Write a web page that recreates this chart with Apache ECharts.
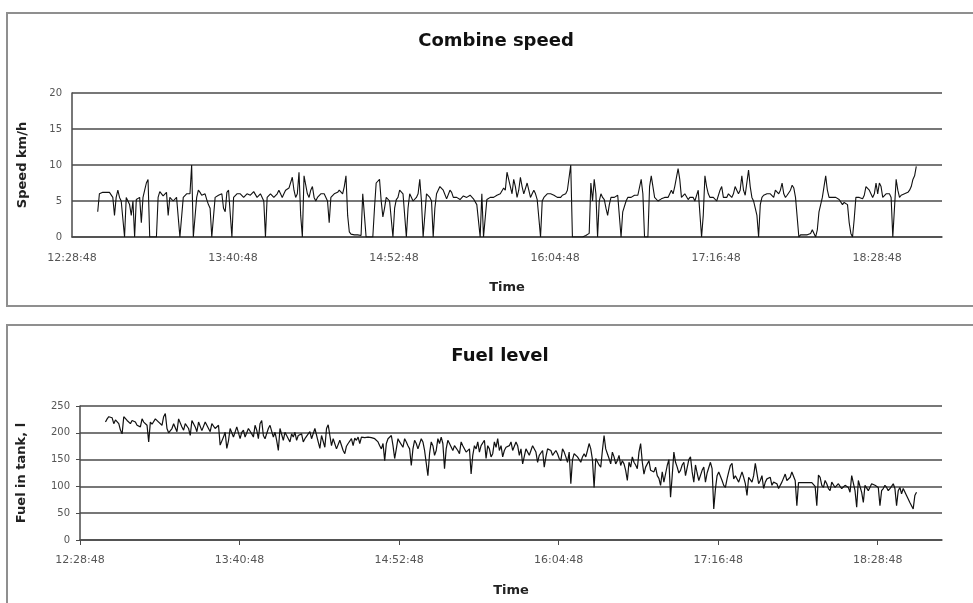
<!DOCTYPE html>
<html>
<head>
<meta charset="utf-8">
<script src="https://cdn.jsdelivr.net/npm/echarts@6/dist/echarts.min.js"></script>
<style>
  html, body { margin: 0; padding: 0; background: #fff; }
  #chart { width: 973px; height: 603px; }
</style>
</head>
<body>
<div id="chart"></div>
<script>
(function() {
  // time axis in minutes after 12:28:48
  var timeLabels = ['12:28:48', '13:40:48', '14:52:48', '16:04:48', '17:16:48', '18:28:48'];
  var labelStepMin = 72;
  var axisMaxMin = 389;
  var sampleStartMin = 11.5;
  var sampleStepMin = 1.5;

  var speedTicks = [0, 5, 10, 15, 20];
  var fuelTicks = [0, 50, 100, 150, 200, 250];

  // combine speed, km/h (one reading every 1.5 min)
  var speedValues = [
    3.5, 6, 6.2, 6, 6.3, 3, 6.5, 5, 0, 5.5,
    3, 0, 5.2, 2, 6.5, 8, 0, 0, 5.5, 6.3,
    5.8, 3, 5.5, 5, 5.5, 0, 5.5, 6, 10, 0,
    6.5, 5.8, 6, 4.5, 0, 5.5, 5.8, 6, 3.5, 6.5,
    0, 5.5, 6, 6, 5.5, 6, 5.8, 6.3, 5.5, 6,
    0, 5.5, 6, 5.5, 6.5, 5.5, 6.5, 6.8, 8.3, 5.5,
    9, 0, 8.5, 5.5, 7, 5, 5.5, 6, 6, 2,
    5.5, 6, 6.5, 6, 8.5, 0.7, 0.4, 0.3, 0.3, 6,
    0, 0, 0, 7.5, 8, 2.8, 5.5, 5, 0, 5.2,
    6.5, 6, 0, 6, 5, 5.5, 8, 0, 6, 5.5,
    0, 6, 7, 6.5, 5.3, 6.5, 5.5, 5.5, 5.2, 5.7,
    5.5, 5.8, 5.3, 4.5, 0, 0, 5.2, 5.5, 5.5, 5.8,
    6, 6.8, 9, 7, 8, 5.5, 8.3, 6, 7.5, 5.5,
    6.5, 5.2, 0, 5.5, 6, 6, 5.8, 5.5, 5.5, 6,
    6.5, 10, 0, 0, 0, 0, 0.3, 7.5, 8, 0,
    6, 5.2, 3, 5.5, 5.5, 5.8, 0, 3.5, 5.5, 5.5,
    5.8, 5.8, 8, 0, 0, 8.5, 5.5, 5, 5.3, 5.5,
    5.5, 6.5, 7, 9.5, 5.5, 6, 5.2, 5.5, 5, 6.5,
    0, 8.5, 6, 5.5, 5.5, 5, 7, 5.3, 6, 5.5,
    7, 6, 8.5, 5.8, 9.3, 5.5, 4, 0, 5.5, 5.8,
    6, 6, 6.5, 6, 7.5, 5.5, 6, 7.2, 5.5, 0,
    0.3, 0.3, 0.2, 1, 0, 3.5, 5.5, 8.5, 5.5, 5.5,
    5.5, 5.2, 4.5, 5, 2, 0, 5.5, 5.5, 5.3, 7,
    6.5, 5.5, 7.5, 7.5, 5.5, 6, 6, 0, 8, 5.5,
    6, 6, 6.5, 8, 9.8
  ];

  // speed readings taken halfway between the ones above
  var speedMidValues = [
    6, 6.2, 6.2, 6.2, 5.5, 5.5, 5.5, 5, 5.5, 4.5,
    5, 5.2, 5.5, 5.5, 7.5, 0, 0, 0, 6.3, 5.7,
    6.2, 5.5, 5, 5.5, 0, 5.5, 6, 6, 0, 5.5,
    6.2, 6, 5.2, 4, 0, 5.5, 6, 4, 6.2, 6.3,
    5.5, 6, 6, 5.5, 6, 5.8, 6.3, 5.5, 6, 5,
    5.5, 6, 5.5, 6, 6, 6, 6.5, 7, 6.5, 6,
    3, 8.5, 6, 6.5, 5.5, 5.5, 6, 6, 5, 5.5,
    6, 6.2, 6.5, 7, 3, 0.4, 0.3, 0.3, 0.2, 3,
    0, 0, 4, 7.5, 5, 4, 5.5, 5, 4, 5.5,
    6.5, 5.8, 4, 6, 5, 6, 5, 0, 6, 5,
    4, 6, 7, 6.5, 5.5, 6.2, 5.5, 5.5, 5.3, 5.7,
    5.5, 5.8, 5.3, 4.5, 6, 0, 5.2, 5.5, 5.5, 5.8,
    6, 6.5, 8, 6, 7, 6.5, 7, 6, 6.5, 6,
    6, 5.2, 5, 5.5, 6, 6, 5.8, 5.5, 5.8, 6,
    6.5, 0, 0, 0, 0, 0.2, 0.5, 5, 6, 5,
    5.5, 4, 4.5, 5.5, 5.5, 5.8, 3.5, 5, 5.5, 5.5,
    5.8, 5.8, 6, 0, 7, 7, 5.5, 5, 5.3, 5.5,
    5.5, 6, 7, 8, 5.5, 5.8, 5.5, 5.5, 5.2, 6.5,
    3, 7, 5.5, 5.5, 5, 6.5, 5.5, 5.5, 6, 6,
    6.5, 6.5, 6.5, 6, 7, 5, 3, 4.5, 5.8, 6,
    6, 5.5, 6.3, 6.5, 6, 5.8, 6.5, 6.8, 5.5, 0.3,
    0.3, 0.3, 0.5, 0.8, 1, 4.5, 7, 6.5, 5.5, 5.5,
    5.3, 5, 4.8, 4.5, 0.5, 2.5, 5.5, 5.5, 5.8, 7,
    6.5, 6, 6, 7, 5.5, 6, 5.5, 0, 6.5, 5.8,
    6, 6.2, 7, 8.5
  ];

  // fuel in tank, l (one reading every 1.5 min)
  var fuelValues = [
    220, 230, 228, 224, 217, 198, 232, 226, 223, 220,
    214, 226, 218, 183, 216, 226, 220, 214, 236, 200,
    208, 214, 226, 211, 217, 208, 223, 211, 220, 204,
    220, 208, 217, 208, 214, 180, 201, 185, 208, 189,
    211, 201, 192, 208, 198, 214, 189, 223, 189, 208,
    214, 201, 167, 211, 201, 189, 198, 201, 195, 198,
    189, 198, 189, 208, 183, 195, 173, 215, 176, 189,
    173, 183, 161, 180, 189, 190, 192, 192, 191, 192,
    191, 189, 183, 170, 148, 189, 195, 152, 189, 186,
    189, 176, 139, 186, 170, 189, 167, 120, 183, 158,
    189, 192, 133, 186, 183, 176, 167, 183, 176, 164,
    123, 176, 183, 176, 186, 176, 155, 183, 189, 176,
    167, 176, 183, 164, 176, 170, 145, 173, 167, 176,
    145, 155, 136, 170, 167, 158, 161, 148, 164, 145,
    105, 161, 155, 145, 161, 167, 170, 98, 151, 136,
    195, 161, 142, 155, 148, 139, 142, 111, 136, 145,
    133, 180, 123, 136, 130, 127, 120, 102, 108, 139,
    80, 164, 136, 130, 145, 120, 155, 108, 125, 114,
    136, 125, 145, 58, 120, 125, 102, 114, 139, 114,
    123, 111, 117, 83, 117, 120, 142, 111, 96, 114,
    117, 108, 105, 96, 105, 111, 117, 130, 64, 107,
    107, 107, 107, 107, 64, 117, 98, 105, 92, 105,
    98, 100, 96, 105, 89, 123, 61, 114, 70, 100,
    89, 105, 100, 64, 96, 98, 96, 105, 64, 98,
    96, 83, 70, 58, 89
  ];

  // fuel readings taken halfway between the ones above
  var fuelMidValues = [
    226, 230, 217, 226, 205, 230, 223, 217, 226, 214,
    211, 220, 214, 220, 214, 223, 217, 230, 208, 202,
    217, 202, 223, 205, 217, 195, 220, 202, 220, 205,
    223, 202, 214, 205, 177, 192, 171, 208, 192, 211,
    189, 205, 195, 208, 192, 205, 217, 195, 189, 214,
    192, 186, 208, 186, 195, 183, 192, 186, 192, 183,
    192, 202, 186, 205, 171, 195, 208, 195, 189, 170,
    186, 167, 175, 183, 176, 186, 180, 189, 189, 190,
    189, 186, 176, 180, 180, 186, 176, 170, 183, 173,
    183, 170, 170, 180, 173, 183, 170, 161, 176, 167,
    180, 180, 170, 180, 167, 176, 161, 176, 164, 170,
    158, 170, 164, 176, 152, 170, 161, 173, 167, 155,
    173, 176, 167, 183, 158, 142, 170, 158, 176, 164,
    158, 167, 155, 170, 158, 167, 152, 170, 155, 164,
    150, 158, 155, 155, 155, 180, 150, 152, 140, 167,
    170, 152, 164, 142, 158, 148, 130, 145, 155, 140,
    164, 145, 136, 148, 130, 136, 115, 127, 111, 150,
    120, 145, 125, 140, 120, 150, 127, 140, 111, 130,
    108, 127, 133, 95, 127, 111, 98, 127, 143, 120,
    108, 127, 105, 117, 108, 143, 105, 120, 108, 117,
    102, 111, 96, 108, 123, 108, 127, 111, 107, 107,
    107, 107, 107, 100, 121, 102, 111, 96, 108, 98,
    105, 96, 102, 98, 120, 92, 111, 89, 102, 92,
    105, 102, 98, 92, 102, 92, 100, 96, 92, 86,
    98, 80, 70, 83
  ];

  function toPairsWithMid(values, midValues) {
    var out = [];
    values.forEach(function(v, i) {
      var t = sampleStartMin + i * sampleStepMin;
      out.push([t, v]);
      if (i < midValues.length) out.push([t + sampleStepMin / 2, midValues[i]]);
    });
    return out;
  }

  function timeFormatter(v) {
    var k = Math.round(v / labelStepMin);
    if (Math.abs(v - k * labelStepMin) > 0.01) return '';
    return timeLabels[k] || '';
  }

  var ink = '#111';
  var gridCol = '#4a4a4a';
  var labelCol = '#555';
  var font = 'DejaVu Sans';

  function xAxisFor(gridIndex, showTicks, margin) {
    return {
      type: 'value', gridIndex: gridIndex,
      min: 0, max: axisMaxMin, interval: labelStepMin,
      name: 'Time', nameLocation: 'middle', nameGap: 44,
      nameTextStyle: { fontFamily: font, fontWeight: 'bold', fontSize: 13, color: '#222' },
      axisLine: { show: true, lineStyle: { color: gridCol, width: 1.5 } },
      axisTick: { show: showTicks, length: 5, lineStyle: { color: gridCol } },
      axisLabel: { formatter: timeFormatter, color: labelCol, fontFamily: font, fontSize: 11, margin: margin, showMaxLabel: false },
      splitLine: { show: false }
    };
  }

  function yAxisFor(gridIndex, ticks, name, nameGap, showTicks) {
    return {
      type: 'value', gridIndex: gridIndex,
      min: ticks[0], max: ticks[ticks.length - 1], interval: ticks[1] - ticks[0],
      name: name, nameLocation: 'middle', nameGap: nameGap, nameRotate: 90,
      nameTextStyle: { fontFamily: font, fontWeight: 'bold', fontSize: 13, color: '#222' },
      axisLine: { show: true, lineStyle: { color: gridCol, width: 1.5 } },
      axisTick: { show: showTicks, length: 4, lineStyle: { color: gridCol } },
      axisLabel: { color: labelCol, fontFamily: font, fontSize: 10, margin: 10 },
      splitLine: { show: true, lineStyle: { color: gridCol, width: 1.5 } }
    };
  }

  var chart = echarts.init(document.getElementById('chart'), null, { renderer: 'canvas' });
  chart.setOption({
    animation: false,
    backgroundColor: '#fff',
    graphic: [
      { type: 'rect', shape: { x: 7, y: 13, width: 980, height: 293 }, style: { fill: 'none', stroke: '#8f8f8f', lineWidth: 2 } },
      { type: 'rect', shape: { x: 7, y: 325, width: 980, height: 290 }, style: { fill: 'none', stroke: '#8f8f8f', lineWidth: 2 } }
    ],
    title: [
      { text: 'Combine speed', left: 491, top: 27, textAlign: 'center',
        textStyle: { fontFamily: font, fontWeight: 'bold', fontSize: 18, color: '#111' } },
      { text: 'Fuel level', left: 495, top: 342, textAlign: 'center',
        textStyle: { fontFamily: font, fontWeight: 'bold', fontSize: 18, color: '#111' } }
    ],
    grid: [
      { left: 72, right: 31, top: 93, height: 144 },
      { left: 80, right: 31, top: 406, height: 134 }
    ],
    xAxis: [xAxisFor(0, false, 16), xAxisFor(1, true, 15)],
    yAxis: [
      yAxisFor(0, speedTicks, 'Speed km/h', 43, false),
      yAxisFor(1, fuelTicks, 'Fuel in tank, l', 52, true)
    ],
    series: [
      { name: 'Speed', type: 'line', xAxisIndex: 0, yAxisIndex: 0, data: toPairsWithMid(speedValues, speedMidValues),
        symbol: 'none', lineStyle: { color: ink, width: 1.1 } },
      { name: 'Fuel', type: 'line', xAxisIndex: 1, yAxisIndex: 1, data: toPairsWithMid(fuelValues, fuelMidValues),
        symbol: 'none', lineStyle: { color: ink, width: 1.2 } }
    ]
  });
})();
</script>
</body>
</html>
